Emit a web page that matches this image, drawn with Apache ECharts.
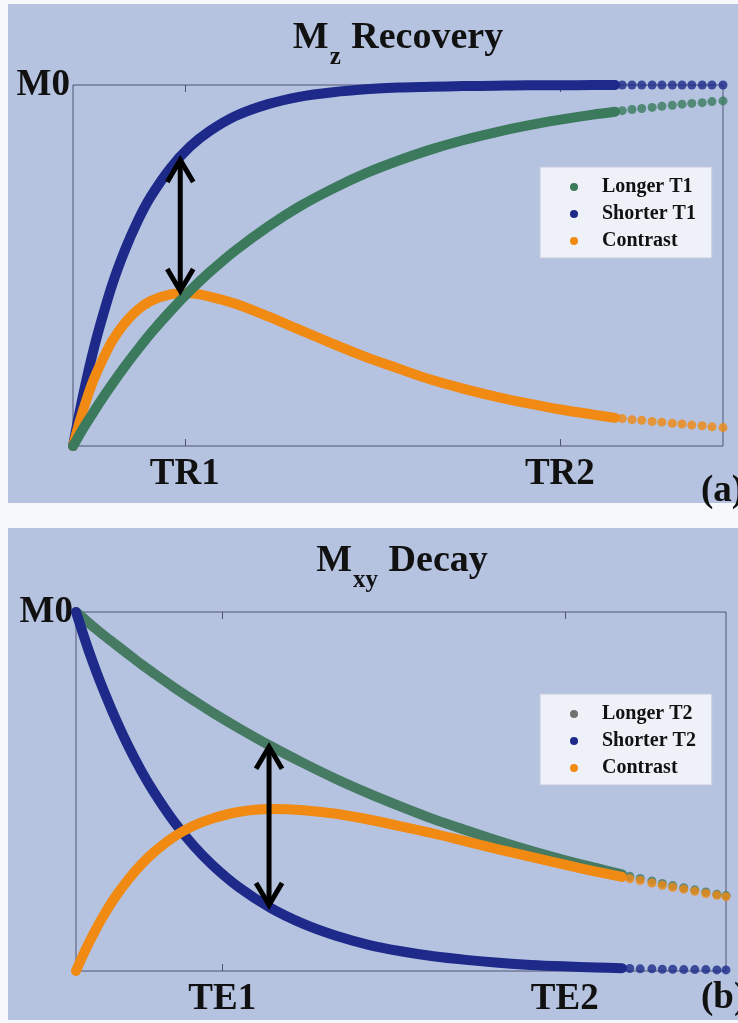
<!DOCTYPE html>
<html><head><meta charset="utf-8">
<script src="https://cdn.jsdelivr.net/npm/echarts@6/dist/echarts.min.js"></script>
<style>html,body{margin:0;padding:0;background:#f7f8fc;}#c{width:738px;height:1023px;}</style>
</head><body><div id="c"></div>
<script>
// ---------- Panel (a): Mz recovery ----------
const xDenseA = [0,1,2,3,4,6,8,10,12,15,18,21,25,30,35,40,45,50,55,60,65,70,75,80,83.4];
const shorterT1 = [0,0.093,0.178,0.255,0.324,0.445,0.543,0.625,0.692,0.770,0.829,0.872,0.914,0.947,0.968,0.980,0.988,0.993,0.995,0.997,0.998,0.999,0.999,1.0,1.0];
const longerT1 = [0,0.031,0.061,0.089,0.118,0.171,0.221,0.268,0.313,0.374,0.430,0.481,0.542,0.608,0.665,0.713,0.755,0.790,0.821,0.847,0.869,0.888,0.904,0.918,0.926];
const contrastA = [0,0.066,0.124,0.176,0.218,0.290,0.341,0.378,0.402,0.420,0.423,0.414,0.394,0.359,0.321,0.283,0.247,0.215,0.184,0.159,0.137,0.118,0.101,0.087,0.078];
const xTailA = [84.5,86.0,87.5,89.1,90.6,92.2,93.7,95.2,96.8,98.3,100];
const shorterT1Tail = [1,1,1,1,1,1,1,1,1,1,1];
const longerT1Tail = [0.929,0.932,0.935,0.938,0.941,0.944,0.947,0.949,0.951,0.954,0.956];
const contrastATail = [0.076,0.073,0.071,0.068,0.066,0.063,0.061,0.058,0.056,0.053,0.051];
const tickValuesA = [17.2,74.9];
const tickLabelsA = ['TR1','TR2'];
const arrowA = [16.5,0.798,0.424]; // x, top, bottom
const legendA = ['Longer T1','Shorter T1','Contrast'];

// ---------- Panel (b): Mxy decay ----------
const xDenseB = [0,1,2,3,4,6,8,10,12,15,18,21,25,30,35,40,45,50,55,60,65,70,75,80,84];
const longerT2 = [1,0.985,0.969,0.954,0.939,0.911,0.883,0.855,0.829,0.791,0.755,0.720,0.677,0.626,0.579,0.535,0.495,0.458,0.423,0.392,0.362,0.335,0.310,0.287,0.269];
const shorterT2 = [1,0.944,0.890,0.840,0.793,0.706,0.628,0.559,0.498,0.418,0.351,0.295,0.234,0.175,0.131,0.098,0.073,0.055,0.041,0.031,0.023,0.017,0.013,0.010,0.008];
const contrastB = [0,0.041,0.079,0.114,0.147,0.205,0.254,0.296,0.331,0.373,0.404,0.425,0.443,0.451,0.448,0.438,0.422,0.403,0.383,0.361,0.339,0.318,0.297,0.277,0.262];
const xTailB = [85.2,86.8,88.6,90.2,91.8,93.5,95.2,96.9,98.6,100];
const longerT2Tail = [0.264,0.258,0.251,0.244,0.238,0.232,0.226,0.220,0.214,0.210];
const shorterT2Tail = [0.007,0.006,0.006,0.005,0.005,0.004,0.004,0.004,0.003,0.003];
const contrastBTail = [0.257,0.252,0.245,0.239,0.233,0.228,0.222,0.216,0.211,0.207];
const tickValuesB = [22.5,75.2];
const tickLabelsB = ['TE1','TE2'];
const arrowB = [29.7,0.630,0.178];
const legendB = ['Longer T2','Shorter T2','Contrast'];

const yTickValues = [1];
const yTickLabels = ['M0'];

// ---------- styling ----------
const C_BLUE = '#1d2a8a', C_GREEN = '#3b7a5c', C_GREEN_B = '#467a63', C_ORANGE = '#f08a12';
const FONT = 'Liberation Serif';
const AXIS = '#4f5270';
const PANEL_BG = '#b5c3e1';

const zip = (xs, ys) => xs.map((x, i) => [x, ys[i]]);

function lineSeries(name, xs, ys, color, xi, yi, z) {
  return { type:'line', name, xAxisIndex:xi, yAxisIndex:yi, data: zip(xs, ys), smooth:0.3,
    showSymbol:false, symbol:'circle', clip:false, z,
    lineStyle:{ width:10, color, cap:'round', join:'round' }, itemStyle:{ color } };
}
function dotSeries(name, xs, ys, color, xi, yi, z) {
  return { type:'scatter', name, xAxisIndex:xi, yAxisIndex:yi, data: zip(xs, ys), symbolSize:9, clip:false, z,
    itemStyle:{ color } };
}
function arrowSeries(arrow, xi, yi) {
  return { type:'custom', xAxisIndex:xi, yAxisIndex:yi, data:[arrow], clip:false, z:20,
    encode:{ x:0, y:[1,2] },
    renderItem(params, api) {
      const p1 = api.coord([api.value(0), api.value(1)]);
      const p2 = api.coord([api.value(0), api.value(2)]);
      const hw = 13, hh = 24, st = { stroke:'#000', lineWidth:5, fill:null, lineJoin:'miter', lineCap:'butt' };
      return { type:'group', children:[
        { type:'line', shape:{ x1:p1[0], y1:p1[1]+3, x2:p2[0], y2:p2[1]-3 }, style:st },
        { type:'polyline', shape:{ points:[[p1[0]-hw,p1[1]+hh],[p1[0],p1[1]+2],[p1[0]+hw,p1[1]+hh]] }, style:st },
        { type:'polyline', shape:{ points:[[p2[0]-hw,p2[1]-hh],[p2[0],p2[1]-2],[p2[0]+hw,p2[1]-hh]] }, style:st }
      ]};
    }
  };
}
function xAxes(gi, ticks, labels) {
  const fmt = v => { const i = ticks.indexOf(v); return i >= 0 ? labels[i] : ''; };
  return [
    { gridIndex:gi, type:'value', min:0, max:100, position:'bottom', splitLine:{show:false},
      axisLine:{show:false},
      axisTick:{ show:true, inside:true, length:7, lineStyle:{color:AXIS}, customValues:ticks },
      axisLabel:{ show:true, customValues:ticks, formatter:fmt, margin:10, fontSize:37, fontWeight:'bold', fontFamily:FONT, color:'#111' } },
    { gridIndex:gi, type:'value', min:0, max:100, position:'top', splitLine:{show:false},
      axisLine:{show:false},
      axisTick:{ show:true, inside:true, length:7, lineStyle:{color:AXIS}, customValues:ticks },
      axisLabel:{ show:false } }
  ];
}
function yAxis(gi) {
  return { gridIndex:gi, type:'value', min:0, max:1, splitLine:{show:false}, axisLine:{show:false}, axisTick:{show:false},
    axisLabel:{ customValues:yTickValues, formatter:v => yTickLabels[yTickValues.indexOf(v)] || '', margin:3,
      fontSize:37, fontWeight:'bold', fontFamily:FONT, color:'#111' } };
}
function legend(top, names) {
  return { left:540, top, orient:'vertical', padding:[10,16,7,30], itemGap:7, itemWidth:46, itemHeight:8,
    icon:'circle', selectedMode:false, backgroundColor:'#eef1f8', borderColor:'#c6cadb', borderWidth:1,
    textStyle:{ fontFamily:FONT, fontWeight:'bold', fontSize:20, lineHeight:20, color:'#111' }, data:names };
}
const richTitle = {
  m:{ fontSize:38, fontWeight:'bold', fontFamily:FONT, color:'#111', lineHeight:42, verticalAlign:'top' },
  s:{ fontSize:25, fontWeight:'bold', fontFamily:FONT, color:'#111', lineHeight:25, padding:[26,1,0,1], verticalAlign:'top' }
};

const option = {
  animation:false,
  backgroundColor:'#f7f8fc',
  graphic:[
    { type:'rect', z:-100, shape:{ x:8, y:4, width:740, height:499 }, style:{ fill:PANEL_BG } },
    { type:'rect', z:-100, shape:{ x:8, y:528, width:740, height:492 }, style:{ fill:PANEL_BG } },
    { type:'text', x:701, y:491, style:{ text:'(a)', fontSize:37, fontWeight:'bold', fontFamily:FONT, fill:'#111', verticalAlign:'middle', align:'left' } },
    { type:'text', x:701, y:998, style:{ text:'(b)', fontSize:37, fontWeight:'bold', fontFamily:FONT, fill:'#111', verticalAlign:'middle', align:'left' } }
  ],
  title:[
    { left:398, top:19, padding:0, textAlign:'center', text:'{m|M}{s|z}{m| Recovery}', textStyle:{ rich:richTitle } },
    { left:402, top:542, padding:0, textAlign:'center', text:'{m|M}{s|xy}{m| Decay}', textStyle:{ rich:richTitle } }
  ],
  grid:[
    { left:73, top:85, width:650, height:361, show:true, borderColor:AXIS, borderWidth:1, backgroundColor:'transparent' },
    { left:76, top:612, width:650, height:359, show:true, borderColor:AXIS, borderWidth:1, backgroundColor:'transparent' }
  ],
  xAxis:[ ...xAxes(0, tickValuesA, tickLabelsA), ...xAxes(1, tickValuesB, tickLabelsB) ],
  yAxis:[ yAxis(0), yAxis(1) ],
  legend:[
    legend(167, legendA),
    legend(694, [{ name:legendB[0], itemStyle:{ color:'#717171' } }, legendB[1], legendB[2]])
  ],
  series:[
    lineSeries('Shorter T1', xDenseA, shorterT1, C_BLUE, 0, 0, 3),
    dotSeries('Shorter T1', xTailA, shorterT1Tail, C_BLUE, 0, 0, 3),
    lineSeries('Contrast', xDenseA, contrastA, C_ORANGE, 0, 0, 4),
    dotSeries('Contrast', xTailA, contrastATail, C_ORANGE, 0, 0, 4),
    lineSeries('Longer T1', xDenseA, longerT1, C_GREEN, 0, 0, 5),
    dotSeries('Longer T1', xTailA, longerT1Tail, C_GREEN, 0, 0, 5),
    arrowSeries(arrowA, 0, 0),

    lineSeries('Longer T2', xDenseB, longerT2, C_GREEN_B, 2, 1, 3),
    dotSeries('Longer T2', xTailB, longerT2Tail, C_GREEN_B, 2, 1, 3),
    lineSeries('Shorter T2', xDenseB, shorterT2, C_BLUE, 2, 1, 4),
    dotSeries('Shorter T2', xTailB, shorterT2Tail, C_BLUE, 2, 1, 4),
    lineSeries('Contrast', xDenseB, contrastB, C_ORANGE, 2, 1, 5),
    dotSeries('Contrast', xTailB, contrastBTail, C_ORANGE, 2, 1, 5),
    arrowSeries(arrowB, 2, 1)
  ]
};
const chart = echarts.init(document.getElementById('c'), null, { renderer:'canvas' });
chart.setOption(option);
</script></body></html>
